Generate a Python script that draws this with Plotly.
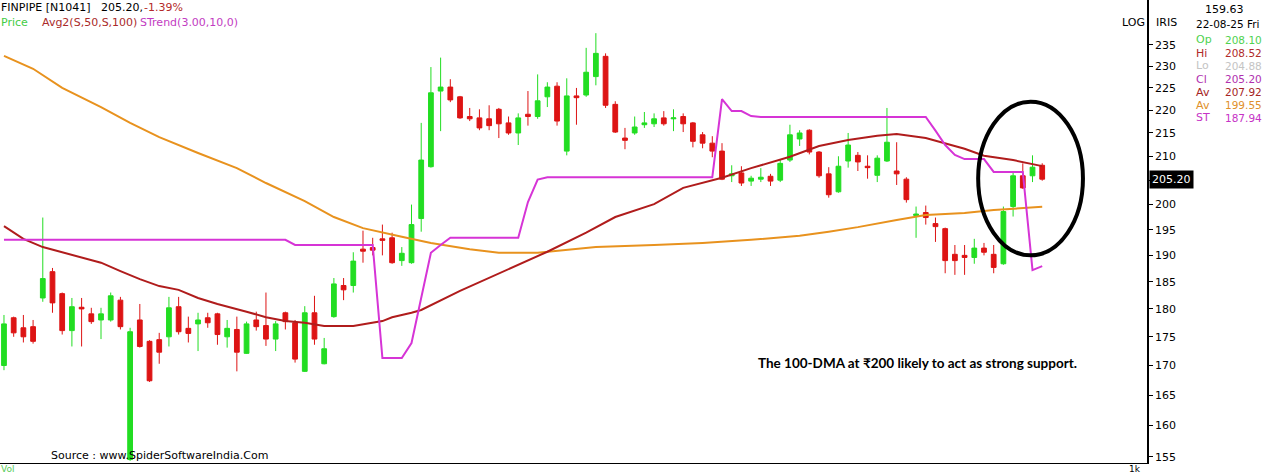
import math
import plotly.graph_objects as go

# ---------------- data ----------------
opens = [170.0, 178.4, 176.6, 176.8, 182.0, 186.9, 182.8, 176.1, 180.3, 179.1,
         178.0, 178.0, 181.6, 154.6, 178.0, 174.2, 174.5, 175.0, 180.4, 176.5,
         177.3, 178.4, 179.1, 175.0, 176.3, 172.1, 178.0, 177.0, 174.6, 179.3,
         177.5, 169.0, 179.3, 170.3, 178.6, 184.3, 184.3, 191.2, 191.5, 193.2,
         193.4, 189.0, 188.6, 197.2, 207.8, 224.3, 225.2, 223.0, 218.6, 218.3,
         218.1, 220.2, 217.2, 215.0, 219.1, 218.6, 223.0, 225.4, 211.1, 223.2,
         223.4, 227.6, 232.3, 221.3, 213.9, 215.0, 216.8, 217.0, 218.3, 218.1,
         218.6, 217.2, 214.6, 212.8, 211.1, 205.9, 206.5, 204.8, 205.2, 205.8,
         205.0, 209.2, 213.7, 215.6, 210.9, 206.3, 202.6, 209.0, 210.2, 207.9,
         206.0, 209.0, 206.9, 205.2, 197.8, 198.4, 196.2, 195.2, 190.2, 190.0,
         189.6, 191.4, 190.2, 188.4, 199.6, 205.9, 205.9, 208.10]
highs = [178.9, 178.6, 178.9, 178.0, 197.4, 187.6, 183.0, 182.0, 182.0, 180.2,
         180.2, 183.0, 182.2, 176.6, 180.9, 174.4, 175.7, 182.2, 182.2, 178.6,
         179.3, 179.3, 179.3, 178.0, 178.6, 177.7, 179.5, 183.0, 177.8, 179.5,
         178.0, 180.5, 182.4, 174.8, 185.7, 185.7, 190.6, 194.8, 193.4, 196.0,
         194.4, 191.6, 200.0, 217.2, 229.8, 232.0, 227.0, 223.2, 220.5, 220.2,
         221.1, 220.5, 218.6, 219.3, 224.3, 228.1, 226.3, 226.3, 227.2, 225.0,
         234.3, 237.8, 233.0, 222.0, 216.1, 218.6, 219.6, 219.3, 219.8, 220.2,
         219.3, 217.4, 215.2, 214.3, 212.8, 208.1, 207.9, 205.9, 207.5, 206.3,
         209.2, 216.8, 215.6, 215.8, 211.1, 207.7, 210.0, 215.0, 210.9, 210.2,
         210.2, 220.5, 213.0, 205.6, 199.6, 199.8, 197.4, 195.4, 192.0, 192.0,
         193.2, 192.4, 192.0, 199.6, 206.9, 208.5, 210.2, 208.52]
lows = [169.2, 175.0, 174.0, 173.8, 181.3, 179.3, 175.4, 173.3, 173.3, 177.3,
        174.6, 177.7, 176.3, 154.4, 173.1, 167.2, 170.3, 173.3, 175.4, 174.0,
        172.5, 176.6, 173.6, 173.1, 169.0, 172.0, 176.1, 173.4, 172.5, 176.3,
        170.5, 168.9, 173.6, 170.2, 178.4, 181.6, 183.0, 188.6, 190.0, 190.0,
        188.4, 188.0, 188.4, 194.6, 207.6, 215.4, 221.8, 218.1, 217.6, 215.6,
        215.6, 213.9, 214.6, 212.4, 216.6, 218.1, 220.7, 216.6, 210.2, 216.8,
        223.0, 225.6, 220.5, 215.0, 211.5, 214.6, 216.1, 216.3, 216.6, 215.4,
        215.2, 211.9, 211.7, 209.8, 205.0, 204.6, 203.8, 203.8, 204.6, 203.8,
        204.6, 208.8, 212.2, 210.4, 205.5, 201.4, 202.4, 207.6, 206.9, 205.3,
        204.6, 208.8, 204.0, 200.4, 193.4, 196.0, 192.6, 186.6, 186.3, 186.3,
        188.4, 190.0, 186.6, 188.2, 197.6, 203.2, 204.6, 204.88]
closes = [177.3, 175.7, 175.0, 174.2, 185.6, 181.1, 176.1, 180.4, 180.0, 177.7,
          179.1, 182.4, 176.8, 175.9, 173.3, 167.4, 172.3, 180.2, 175.9, 175.6,
          178.0, 177.5, 175.4, 176.5, 172.3, 177.3, 176.8, 174.6, 177.3, 177.7,
          171.1, 179.3, 174.6, 172.9, 184.6, 183.5, 188.9, 190.8, 191.0, 192.9,
          188.6, 190.4, 196.0, 209.2, 223.9, 225.2, 222.3, 218.3, 218.1, 216.1,
          216.6, 217.0, 215.0, 218.3, 218.6, 222.1, 225.2, 217.6, 223.2, 222.8,
          228.6, 233.0, 221.1, 215.2, 213.4, 216.3, 217.2, 218.1, 217.0, 218.3,
          217.0, 213.2, 212.8, 211.1, 205.2, 206.3, 204.4, 205.4, 205.6, 204.8,
          208.5, 214.6, 215.0, 210.9, 205.9, 202.0, 207.9, 212.4, 208.8, 207.6,
          209.6, 213.0, 206.3, 201.0, 198.1, 197.4, 195.6, 189.0, 189.0, 189.6,
          191.4, 190.6, 187.7, 198.6, 205.9, 203.4, 207.7, 205.20]
bar_idx = list(range(len(opens)))

# 50-day average (read at selected bars)
ma50_idx = [0, 2, 4, 6, 8, 10, 12, 14, 16, 18, 20, 22, 25, 27, 29, 31, 33, 36,
            39, 40, 42, 43, 47, 52, 56, 60, 63, 67, 70, 74, 77, 81, 84, 87, 90,
            92, 95, 99, 101, 104, 107]
ma50_val = [195.7, 193.2, 191.6, 190.6, 189.5, 188.6, 187.0, 185.5, 184.2, 183.5,
            182.0, 180.9, 179.5, 178.5, 177.8, 177.5, 176.9, 176.9, 177.8, 178.5,
            179.3, 179.8, 183.3, 187.4, 190.7, 194.4, 197.5, 200.1, 203.4, 205.5,
            207.5, 209.9, 212.2, 213.5, 214.4, 214.8, 213.9, 211.6, 210.1, 209.2,
            207.92]

# 100-day average (read at selected bars)
ma100_idx = [0, 3, 6, 10, 13, 16, 20, 24, 27, 31, 34, 37, 41, 44, 48, 51, 55,
             58, 61, 67, 72, 77, 82, 85, 88, 92, 95, 99, 102, 107]
ma100_val = [232.4, 229.4, 225.0, 220.7, 217.2, 214.1, 210.7, 207.5, 204.4, 200.7,
             197.5, 195.3, 193.6, 192.4, 191.2, 190.5, 190.5, 191.1, 191.6, 192.0,
             192.4, 193.0, 193.8, 194.6, 195.5, 196.9, 197.9, 198.3, 198.9, 199.55]

# SuperTrend (3.00, 10) per bar
st_val = [193.0, 193.0, 193.0, 193.0, 193.0, 193.0, 193.0, 193.0, 193.0, 193.0,
          193.0, 193.0, 193.0, 193.0, 193.0, 193.0, 193.0, 193.0, 193.0, 193.0,
          193.0, 193.0, 193.0, 193.0, 193.0, 193.0, 193.0, 193.0, 193.0, 193.0,
          192.0, 192.0, 192.0, 192.0, 192.0, 192.0, 192.0, 192.0, 192.0, 171.3,
          171.3, 171.3, 173.9, 182.0, 190.5, 192.0, 193.4, 193.4, 193.4, 193.4,
          193.4, 193.4, 193.4, 193.4, 200.5, 205.1, 205.6, 205.6, 205.6, 205.6,
          205.6, 205.6, 205.6, 205.6, 205.6, 205.6, 205.6, 205.6, 205.6, 205.6,
          205.6, 205.6, 205.6, 205.6, 222.5, 219.8, 219.8, 218.7, 218.5, 218.5,
          218.5, 218.5, 218.5, 218.5, 218.5, 218.5, 218.5, 218.5, 218.5, 218.5,
          218.5, 218.5, 218.5, 218.5, 218.5, 218.5, 215.5, 212.4, 210.3, 209.4,
          209.4, 209.4, 206.7, 206.7, 206.7, 206.7, 187.2, 187.94]

y_ticks = [155, 160, 165, 170, 175, 180, 185, 190, 195, 200, 205, 210, 215,
           220, 225, 230, 235]

info_labels = ["Op", "Hi", "Lo", "Cl", "Av", "Av", "ST"]
info_values = ["208.10", "208.52", "204.88", "205.20", "207.92", "199.55", "187.94"]
info_colors = ["#4fd24f", "#b02a2a", "#c4c4c4", "#b030b0", "#a52525", "#e0902a", "#c633c6"]

last_close = closes[-1]

# ---------------- styling ----------------
W, H = 1266, 473
PLOT_R = 1147   # px right edge of plot area
PLOT_B = 463    # px bottom edge of plot area
GREEN = "#22dd22"
RED = "#dd1414"
ORANGE = "#e8921e"
DARKRED = "#b01c1c"
MAGENTA = "#d634d6"
FONT = "DejaVu Sans, Verdana, sans-serif"


def px(x):
    return x / PLOT_R


def py(y):
    return 1 - y / PLOT_B


fig = go.Figure()
fig.add_trace(go.Candlestick(
    x=bar_idx, open=opens, high=highs, low=lows, close=closes,
    increasing=dict(line=dict(color=GREEN, width=1), fillcolor=GREEN),
    decreasing=dict(line=dict(color=RED, width=1), fillcolor=RED),
    whiskerwidth=0, showlegend=False, hoverinfo="skip"))
fig.add_trace(go.Scatter(x=ma100_idx, y=ma100_val, mode="lines",
                         line=dict(color=ORANGE, width=2), showlegend=False,
                         hoverinfo="skip"))
fig.add_trace(go.Scatter(x=ma50_idx, y=ma50_val, mode="lines",
                         line=dict(color=DARKRED, width=2), showlegend=False,
                         hoverinfo="skip"))
fig.add_trace(go.Scatter(x=bar_idx, y=st_val, mode="lines",
                         line=dict(color=MAGENTA, width=2), showlegend=False,
                         hoverinfo="skip"))

# ellipse highlighting the last bars (shapes on log axes use data values)
fig.add_shape(type="circle", xref="x", yref="y", x0=100.4, x1=111.2,
              y0=190.0, y1=221.9, line=dict(color="black", width=4))

ann = []


def text(x, y, s, color="black", size=11, xanchor="left", bold=False,
         family=FONT, yanchor="middle"):
    if bold:
        s = "<b>" + s + "</b>"
    ann.append(dict(x=px(x), y=py(y), xref="paper", yref="paper", text=s,
                    showarrow=False, xanchor=xanchor, yanchor=yanchor,
                    borderpad=0,
                    font=dict(family=family, size=size, color=color)))


# header
text(0, 8, "FINPIPE [N1041]")
text(100, 8, "205.20,")
text(143, 8, "-1.39%", color="#b42a2a")
text(0, 23, "Price", color="#44cc44")
text(41, 23, "Avg2(S,50,S,100)", color="#aa2a2a")
text(139, 23, "STrend(3.00,10,0)", color="#c23cc2")

# right panel
text(1121, 23, "LOG")
text(1155, 23, "IRIS")
text(1204, 9, "159.63")
text(1195, 24, "22-08-25 Fri", size=10.5)
row_y = [40, 53, 66, 79, 92, 105, 118]
for lab, val, col, yy in zip(info_labels, info_values, info_colors, row_y):
    text(1195, yy, lab, color=col)
    text(1224, yy, val, color=col, size=10.5)

# footer / notes
text(50, 455, "Source : www.SpiderSoftwareIndia.Com", size=11)
text(917, 363, "The 100-DMA at \u20b9200 likely to act as strong support.",
     size=13.5, xanchor="center", bold=True,
     family="Lato, Liberation Sans, sans-serif")
text(0, 463, "Vol", color="#55cc55", size=9, yanchor="top")
text(1128, 463, "1k", size=9, yanchor="top")

# last price tag on the axis
ann.append(dict(x=1.0, y=math.log10(last_close), xref="paper", yref="y",
                text=f"{last_close:.2f}", showarrow=False, xanchor="left",
                yanchor="middle", xshift=2, bgcolor="black", borderpad=2,
                font=dict(family=FONT, size=11, color="white")))

y_lo, y_hi = 154.06, 245.9
fig.update_layout(
    width=W, height=H,
    margin=dict(l=0, r=W - PLOT_R, t=0, b=H - PLOT_B),
    paper_bgcolor="white", plot_bgcolor="white",
    annotations=ann,
    showlegend=False,
    xaxis=dict(range=[-0.41, 117.8], showgrid=False, zeroline=False,
               showticklabels=False, ticks="", showline=True,
               linecolor="black", linewidth=1, rangeslider=dict(visible=False),
               fixedrange=True),
    yaxis=dict(type="log", side="right",
               range=[math.log10(y_lo), math.log10(y_hi)],
               tickvals=y_ticks,
               ticktext=["" if v == 205 else str(v) for v in y_ticks],
               ticks="outside", ticklen=4, tickcolor="black",
               showline=True, linecolor="black", linewidth=1.5,
               showgrid=False, zeroline=False,
               tickfont=dict(family=FONT, size=11, color="black"),
               fixedrange=True),
)

fig.write_html("out.html", post_script="document.body.style.margin='0';",
               config={"displayModeBar": False})
